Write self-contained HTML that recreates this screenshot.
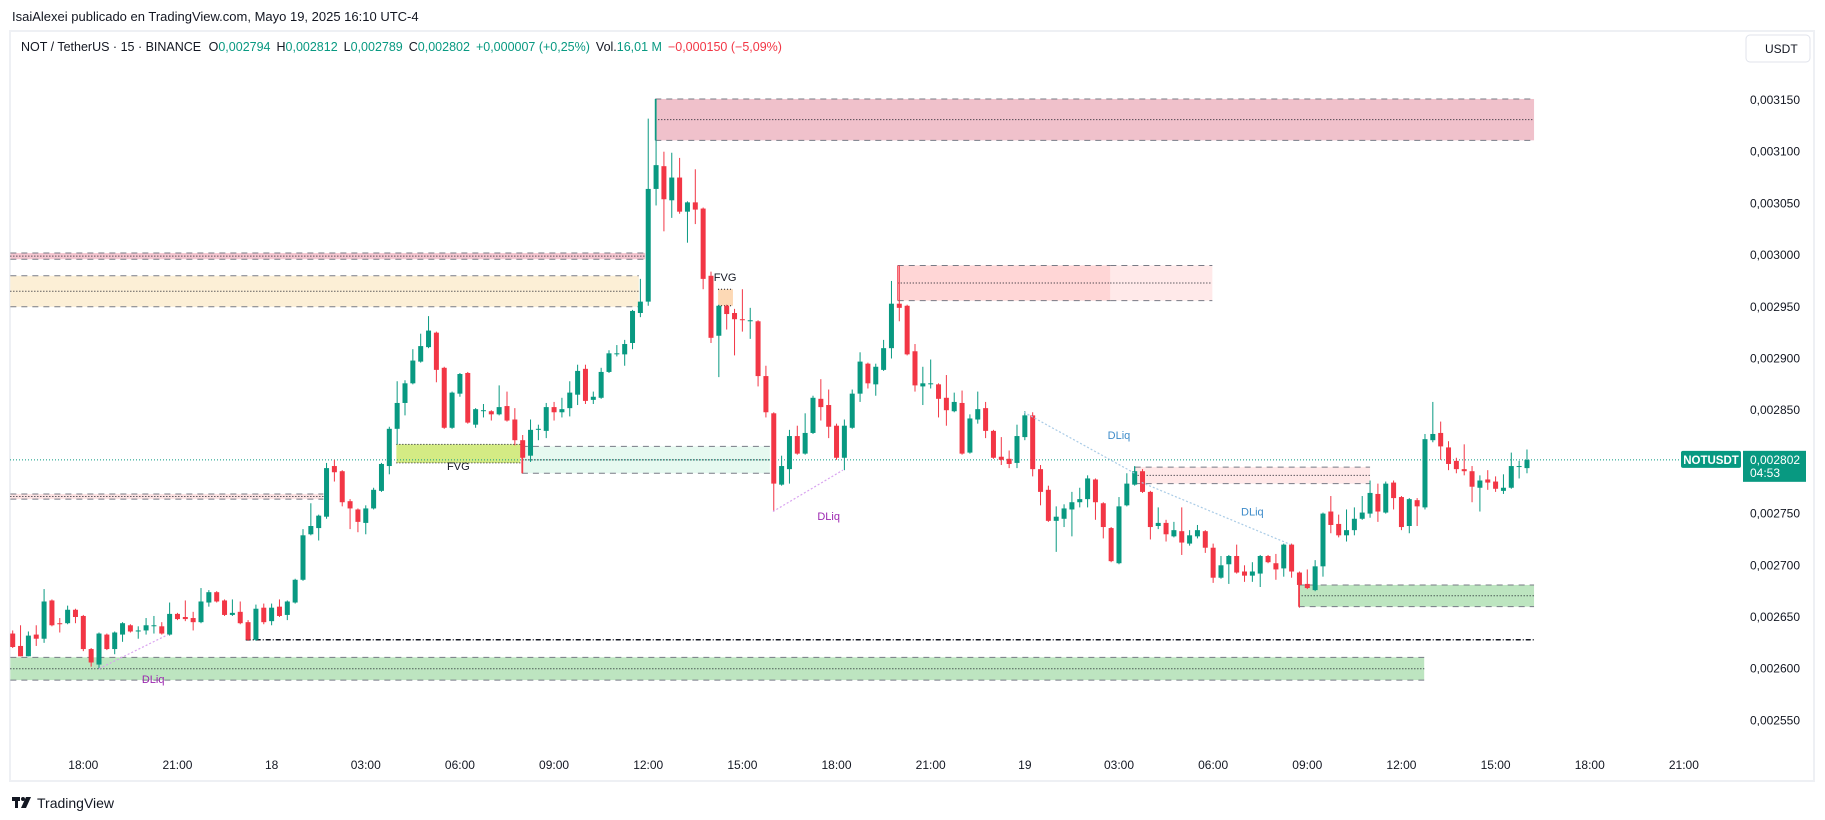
<!DOCTYPE html>
<html><head><meta charset="utf-8">
<style>
html,body{margin:0;padding:0;background:#fff;width:1825px;height:820px;overflow:hidden;font-family:"Liberation Sans",sans-serif;}
svg{display:block}
</style></head>
<body>
<svg id="chart" width="1825" height="820" xmlns="http://www.w3.org/2000/svg" font-family="Liberation Sans, sans-serif">
<text x="12" y="21" font-size="13" fill="#131722">IsaiAlexei publicado en TradingView.com, Mayo 19, 2025 16:10 UTC-4</text>
<rect x="10" y="31" width="1804" height="750" fill="#fff" stroke="#eef0f4" stroke-width="2"/>
<g id="zones"></g>
<g id="candles"></g>
<g id="overlay"></g>
<g id="axes"></g>
<text x="21" y="51" font-size="12.5" fill="#131722">NOT / TetherUS · 15 · BINANCE <tspan dx="4">O</tspan><tspan fill="#089981">0,002794</tspan><tspan dx="6">H</tspan><tspan fill="#089981">0,002812</tspan><tspan dx="6">L</tspan><tspan fill="#089981">0,002789</tspan><tspan dx="6">C</tspan><tspan fill="#089981">0,002802</tspan><tspan dx="6" fill="#089981">+0,000007 (+0,25%)</tspan><tspan dx="6">Vol.</tspan><tspan fill="#089981">16,01 M</tspan><tspan dx="6" fill="#f23645">−0,000150 (−5,09%)</tspan></text>
<g>
<rect x="1746" y="35" width="64" height="27" rx="4" fill="#fff" stroke="#e0e3eb"/>
<text x="1765" y="53" font-size="12" fill="#131722">USDT</text>
</g>
<g>
<rect x="12" y="797" width="8" height="4" fill="#131722"/><rect x="15" y="797" width="3" height="11" fill="#131722"/>
<circle cx="23" cy="799" r="2" fill="#131722"/><polygon points="26,797 31,797 26,808 21,808" fill="#131722"/>
<text x="37" y="808" font-size="14" fill="#131722">TradingView</text>
</g>
</svg>
<script>
const priceUnit = 1e-6;
const opens = [2634,2622,2612,2633,2629,2666,2644,2644,2657,2651,2619,2604,2633,2619,2633,2642,2636,2637,2642,2641,2633,2653,2650,2649,2645,2664,2674,2666,2652,2655,2645,2628,2659,2646,2660,2652,2664,2686,2730,2736,2747,2796,2791,2762,2754,2741,2755,2772,2796,2832,2857,2876,2897,2911,2925,2891,2833,2866,2886,2836,2850,2849,2846,2854,2841,2821,2806,2831,2830,2853,2848,2852,2865,2890,2860,2862,2887,2905,2904,2915,2944,2955,3064,3086,3053,3075,3042,3051,3045,2980,2922,2951,2944,2938,2936,2936,2883,2847,2778,2793,2825,2808,2828,2861,2855,2835,2804,2833,2866,2895,2875,2889,2910,2953,2951,2907,2873,2876,2875,2862,2849,2857,2809,2841,2852,2830,2805,2803,2799,2824,2845,2793,2773,2743,2745,2754,2761,2764,2783,2760,2736,2702,2758,2778,2791,2771,2738,2741,2728,2733,2721,2728,2733,2717,2688,2701,2709,2694,2690,2692,2709,2702,2697,2720,2693,2682,2676,2699,2752,2740,2729,2734,2745,2750,2769,2751,2780,2766,2738,2763,2756,2821,2828,2814,2801,2793,2791,2775,2783,2781,2772,2775,2796,2794];
const highs = [2637,2642,2636,2642,2677,2667,2649,2661,2658,2652,2620,2635,2634,2636,2645,2643,2641,2649,2651,2645,2664,2654,2666,2655,2678,2676,2675,2667,2667,2665,2647,2662,2663,2663,2667,2666,2687,2735,2760,2749,2799,2802,2792,2764,2755,2758,2775,2799,2834,2878,2879,2909,2924,2941,2926,2892,2868,2886,2887,2852,2856,2850,2874,2868,2852,2826,2841,2836,2857,2858,2862,2878,2894,2894,2868,2891,2908,2913,2918,2947,2977,3132,3151,3100,3099,3094,3052,3083,3046,2984,2952,2952,2948,2967,2949,2937,2893,2848,2806,2831,2835,2847,2864,2880,2870,2837,2841,2870,2906,2896,2895,2918,2975,2990,2952,2914,2892,2899,2876,2884,2867,2869,2846,2868,2858,2831,2824,2811,2836,2849,2848,2797,2777,2757,2759,2771,2775,2787,2784,2761,2737,2766,2789,2796,2793,2772,2756,2744,2742,2756,2734,2739,2734,2721,2709,2710,2720,2700,2703,2710,2710,2711,2721,2721,2694,2696,2705,2751,2767,2749,2754,2756,2767,2782,2779,2781,2782,2767,2765,2765,2827,2858,2839,2820,2804,2817,2796,2787,2792,2786,2788,2809,2801,2812];
const lows = [2620,2612,2612,2622,2625,2641,2635,2643,2644,2617,2602,2600,2618,2614,2626,2635,2629,2633,2634,2633,2632,2647,2646,2637,2644,2660,2664,2651,2651,2643,2627,2627,2643,2642,2650,2647,2663,2685,2729,2724,2745,2781,2757,2735,2732,2730,2754,2771,2788,2817,2845,2875,2896,2910,2877,2832,2832,2863,2837,2833,2843,2840,2845,2839,2816,2789,2800,2821,2823,2840,2843,2844,2855,2856,2856,2861,2886,2902,2893,2909,2940,2951,3048,3023,3036,3040,3012,3030,2967,2915,2882,2928,2903,2926,2919,2873,2843,2752,2777,2779,2807,2807,2827,2840,2823,2802,2792,2832,2858,2871,2864,2888,2900,2936,2903,2868,2855,2871,2843,2835,2848,2807,2808,2837,2823,2803,2797,2794,2794,2821,2786,2758,2742,2713,2737,2728,2756,2756,2744,2726,2703,2701,2757,2777,2770,2725,2735,2723,2727,2710,2719,2726,2712,2683,2687,2682,2692,2684,2684,2679,2702,2686,2689,2688,2659,2677,2675,2689,2731,2727,2723,2729,2744,2746,2742,2750,2754,2734,2731,2738,2754,2819,2802,2792,2789,2787,2761,2752,2773,2771,2769,2774,2784,2789];
const closes = [2621,2612,2632,2629,2665,2642,2643,2657,2650,2619,2606,2634,2619,2635,2644,2636,2637,2642,2642,2634,2653,2648,2648,2645,2665,2674,2665,2652,2654,2644,2628,2658,2645,2659,2651,2665,2686,2729,2738,2748,2794,2790,2761,2755,2742,2755,2773,2798,2832,2857,2876,2898,2912,2927,2889,2833,2867,2885,2838,2851,2850,2846,2853,2840,2821,2804,2831,2832,2853,2848,2851,2867,2888,2859,2863,2887,2905,2905,2914,2946,2955,3064,3087,3054,3075,3042,3051,3044,2977,2920,2951,2943,2938,2937,2937,2883,2848,2779,2796,2825,2808,2828,2862,2853,2834,2804,2835,2866,2897,2876,2892,2910,2953,2949,2904,2874,2876,2876,2861,2850,2858,2808,2842,2851,2830,2804,2802,2798,2825,2845,2793,2771,2743,2747,2755,2761,2764,2784,2761,2737,2704,2757,2779,2791,2771,2737,2741,2730,2734,2722,2729,2734,2717,2688,2700,2709,2693,2690,2694,2709,2703,2696,2720,2694,2681,2678,2699,2750,2739,2729,2734,2745,2751,2770,2752,2779,2765,2737,2764,2757,2822,2827,2815,2798,2793,2791,2776,2782,2780,2774,2775,2796,2796,2802];
const priceTicks = [3150,3100,3050,3000,2950,2900,2850,2800,2750,2700,2650,2600,2550];
const timeLabels = ["18:00","21:00","18","03:00","06:00","09:00","12:00","15:00","18:00","21:00","19","03:00","06:00","09:00","12:00","15:00","18:00","21:00"];
const lastPrice = 2802;
// zones: [startIndex, endIndex, topPrice, bottomPrice]
const zoneTopSupply = [81.9, 193.9, 3151, 3111];
const zonePinkThin = [-0.3, 80.6, 3002, 2996];
const zoneOrange = [-0.3, 79.8, 2980, 2950];
const zonePinkMid = [112.8, 139.9, 2990, 2956];
const zonePinkMidLight = [139.9, 152.9, 2990, 2956];
const zonePinkSmall = [143, 173, 2795, 2779];
const zonePinkLow = [-0.3, 39.6, 2769, 2764];
const zoneFvgLime = [48.9, 64.7, 2817, 2799];
const zoneMint = [64.9, 96.5, 2815, 2789];
const zoneFvgOrange = [89.9, 91.8, 2967, 2951];
const zoneGreenRight = [163.9, 193.9, 2681, 2660];
const zoneGreenBottom = [-0.3, 179.9, 2611, 2589];
const blackLine = [29.7, 193.9, 2628];
const dliqPurple1 = [11, 2600, 19.8, 2633];
const dliqPurple2 = [96.9, 2752, 105.8, 2792];
const dliqBlue1 = [128.9, 2848, 143, 2789];
const dliqBlue2 = [143.9, 2780, 162.9, 2720];

const NS = "http://www.w3.org/2000/svg";
function xOf(i){ return 12.7 + i*7.846; }
function yOf(p){ return 100 + (3150 - p)*1.034; }
function mk(tag, attrs, parent){ const e=document.createElementNS(NS,tag); for(const k in attrs) e.setAttribute(k,attrs[k]); parent.appendChild(e); return e; }
function fmt(p){ return (p*priceUnit).toFixed(6).replace('.',','); }

const zg=document.getElementById('zones');
function zone(z, fill, name, mid, left){
  const x1=xOf(z[0]), x2=xOf(z[1]), y1=yOf(z[2]), y2=yOf(z[3]);
  const r=mk('rect',{x:x1,y:y1,width:x2-x1,height:y2-y1,fill:fill},zg);
  
  
  mk('line',{x1:x1,x2:x2,y1:y1,y2:y1,stroke:'#787b86','stroke-width':1,'stroke-dasharray':'6 5'},zg);
  mk('line',{x1:x1,x2:x2,y1:y2,y2:y2,stroke:'#787b86','stroke-width':1,'stroke-dasharray':'6 5'},zg);
  if(mid){ const ym=(y1+y2)/2; mk('line',{x1:x1,x2:x2,y1:ym,y2:ym,stroke:'#131722','stroke-width':1,'stroke-dasharray':'1 2'},zg); }
  if(left){ mk('line',{x1:x1,x2:x1,y1:y1,y2:y2,stroke:left,'stroke-width':1},zg); }
}
zone(zoneTopSupply,'#f0c1cb','supply-zone-top',true,'#089981');
zone(zonePinkThin,'#f5c6d0','pink-band-upper',true);
zone(zoneOrange,'#fcefd6','orange-zone-left',true);
zone(zonePinkMid,'#ffd6d6','supply-zone-mid',true,'#f23645');
zone(zonePinkMidLight,'#ffe9e9','supply-zone-mid-extension',true);
zone(zonePinkSmall,'#ffe8e8','pink-zone-small',true,'#089981');
zone(zonePinkLow,'#fde3e3','pink-band-lower',true);
zone(zoneMint,'#e6f9f0','mint-zone',true,'#f23645');
zone(zoneGreenRight,'#bde5c0','demand-zone-right',true,'#f23645');
zone(zoneGreenBottom,'#bde5c0','demand-zone-bottom',true);
function fvg(z, fill, name){
  const x1=xOf(z[0]), x2=xOf(z[1]), y1=yOf(z[2]), y2=yOf(z[3]);
  const r=mk('rect',{x:x1,y:y1,width:x2-x1,height:y2-y1,fill:fill},zg);
  
  
  mk('line',{x1:x1,x2:x2,y1:y1,y2:y1,stroke:'#131722','stroke-dasharray':'1 2'},zg);
  mk('line',{x1:x1,x2:x2,y1:y2,y2:y2,stroke:'#131722','stroke-dasharray':'1 2'},zg);
}
fvg(zoneFvgLime,'#d4eb84','fvg-lime');
fvg(zoneFvgOrange,'#fdd9b5','fvg-orange');
const bl=mk('line',{x1:xOf(blackLine[0]),x2:xOf(blackLine[1]),y1:yOf(blackLine[2]),y2:yOf(blackLine[2]),stroke:'#131722','stroke-width':1.5,'stroke-dasharray':'5 2 1 2'},zg);



const pl=mk('line',{x1:10,x2:1740,y1:yOf(lastPrice),y2:yOf(lastPrice),stroke:'#089981','stroke-dasharray':'1 2'},zg);



const cg=document.getElementById('candles');
for(let i=0;i<opens.length;i++){
  const o=opens[i],h=highs[i],l=lows[i],c=closes[i];
  const up=c>=o, col=up?'#089981':'#f23645', x=xOf(i);
  const g=mk('g',{},cg);
  
  
  mk('line',{x1:x,x2:x,y1:yOf(h),y2:yOf(l),stroke:col,'stroke-width':1},g);
  const yt=yOf(Math.max(o,c)), yb=yOf(Math.min(o,c));
  mk('rect',{x:x-2.5,y:yt,width:5,height:Math.max(1,yb-yt),fill:col},g);
}

const og=document.getElementById('overlay');
function dliq(d,col,name,lx,lp,lcol){
  const ln=mk('line',{x1:xOf(d[0]),y1:yOf(d[1]),x2:xOf(d[2]),y2:yOf(d[3]),stroke:col,'stroke-width':1.2,'stroke-dasharray':'2 2'},og);
  
  
  const t=mk('text',{x:xOf(lx),y:yOf(lp),'font-size':11,fill:lcol,'text-anchor':'middle'},og);
  t.textContent='DLiq';
  
  
}
dliq(dliqPurple1,'#d9a3f0','dliq-line-1',17.9,2586,'#9c27b0');
dliq(dliqPurple2,'#d9a3f0','dliq-line-2',104,2744,'#9c27b0');
dliq(dliqBlue1,'#a9cbe6','dliq-line-3',141,2822,'#3d8bc9');
dliq(dliqBlue2,'#a9cbe6','dliq-line-4',158,2748,'#3d8bc9');
function label(txt,ix,p,name){
  const t=mk('text',{x:xOf(ix),y:yOf(p),'font-size':11,fill:'#131722','text-anchor':'middle'},og);
  t.textContent=txt;
  
  
}
label('FVG',56.8,2792,'fvg-label-1');
label('FVG',90.8,2975,'fvg-label-2');

const ag=document.getElementById('axes');
priceTicks.forEach(p=>{
  const t=mk('text',{x:1800,y:yOf(p)+4,'font-size':12,fill:'#131722','text-anchor':'end'},ag);
  t.textContent=fmt(p);
  
  
});
timeLabels.forEach((s,k)=>{
  const t=mk('text',{x:xOf(9+12*k),y:769,'font-size':12,fill:'#131722','text-anchor':'middle'},ag);
  t.textContent=s;
  
  
});
const yp=yOf(lastPrice);
const sym=mk('g',{},ag);


mk('rect',{x:1681,y:yp-9,width:60,height:17,rx:2,fill:'#089981'},sym);
const st=mk('text',{x:1711,y:yp+4,'font-size':11.5,'font-weight':'bold',fill:'#fff','text-anchor':'middle'},sym);
st.textContent='NOTUSDT';
const pt=mk('g',{},ag);


mk('rect',{x:1743,y:yp-9,width:63,height:31,fill:'#089981'},pt);
const t1=mk('text',{x:1750,y:yp+4,'font-size':12,fill:'#fff'},pt);
t1.textContent=fmt(lastPrice);
const t2=mk('text',{x:1750,y:yp+17,'font-size':12,fill:'#fff'},pt);
t2.textContent='04:53';
</script>
</body></html>
